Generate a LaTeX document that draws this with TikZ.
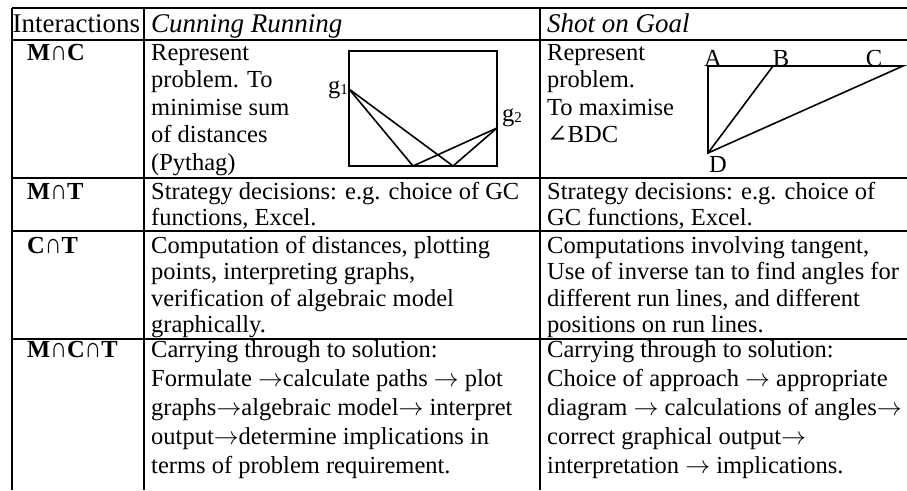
\documentclass[tikz,border=0pt]{standalone}
\usepackage{fontspec}
\setmainfont{Liberation Serif}
\newfontfamily\capfont{Liberation Sans}
\newfontfamily\angfont{DejaVu Serif}
\newcommand{\cp}{\scalebox{0.95}[1.15]{\capfont\mdseries ∩}}
\newcommand{\ar}{\ensuremath{\rightarrow}}
\newcommand{\subsm}[1]{\raisebox{-1.5pt}{\fontsize{15}{15}\selectfont #1}}
\begin{document}
\begin{tikzpicture}[x=1pt,y=-1pt,
  txt/.style={anchor=base west, inner sep=0pt, font=\fontsize{24.5}{27.6}\selectfont},
  hdr/.style={txt, font=\fontsize{27}{30}\selectfont\itshape},
  lbl/.style={txt, font=\fontsize{24.5}{27.6}\selectfont\bfseries},
  ptl/.style={anchor=base, inner sep=0pt, font=\fontsize{24.5}{27.6}\selectfont},
  rule/.style={line width=1.5pt},
  geo/.style={line width=1.6pt, line join=miter, line cap=round}]
\fill[white] (0,0) rectangle (907,490);
\useasboundingbox (0,0) rectangle (907,490);
% table rules
\draw[rule] (12,8) -- (907,8);
\draw[rule] (12,40) -- (907,40);
\draw[rule] (12,178) -- (907,178);
\draw[rule] (12,231) -- (907,231);
\draw[rule] (12,339) -- (907,339);
\draw[rule] (12,8) -- (12,490);
\draw[rule] (144,8) -- (144,490);
\draw[rule] (540,8) -- (540,490);
% header
\node[txt, font=\fontsize{27}{30}\selectfont] (h1) at (12.5,32.5) {Interactions};
\node[hdr] (h2) at (151,32.5) {Cunning Running};
\node[hdr] (h3) at (547,32.5) {Shot on Goal};
% row labels
\node[lbl] (l1) at (27,60) {M\cp C};
\node[lbl] (l2) at (27,199) {M\cp T};
\node[lbl] (l3) at (27,253) {C\cp T};
\node[lbl] (l4) at (27,357) {M\cp C\cp T};
% row 1 texts
\node[txt] (a1) at (151,60) {Represent};
\node[txt] (a2) at (151,87.6) {problem. To};
\node[txt] (a3) at (151,115.2) {minimise sum};
\node[txt] (a4) at (151,142.8) {of distances};
\node[txt] (a5) at (151,170.4) {(Pythag)};
\node[txt] (b1) at (547,60) {Represent};
\node[txt] (b2) at (547,87.6) {problem.};
\node[txt] (b3) at (547,115.2) {To maximise};
\node[txt] (b4) at (547,142.8) {{\angfont ∠}BDC};
% row 2 texts
\node[txt] (c1) at (151,199) {Strategy decisions: e.g. choice of GC};
\node[txt] (c2) at (151,225) {functions, Excel.};
\node[txt] (d1) at (547,199) {Strategy decisions: e.g. choice of};
\node[txt] (d2) at (547,225) {GC functions, Excel.};
% row 3 texts
\node[txt] (e1) at (151,253) {Computation of distances, plotting};
\node[txt] (e2) at (151,279.5) {points, interpreting graphs,};
\node[txt] (e3) at (151,306) {verification of algebraic model};
\node[txt] (e4) at (151,332.5) {graphically.};
\node[txt] (f1) at (547,253) {Computations involving tangent,};
\node[txt] (f2) at (547,279.5) {Use of inverse tan to find angles for};
\node[txt] (f3) at (547,306) {different run lines, and different};
\node[txt] (f4) at (547,332.5) {positions on run lines.};
% row 4 texts
\node[txt] (g1t) at (151,357) {Carrying through to solution:};
\node[txt] (g2t) at (151,386) {Formulate \ar calculate paths \ar{} plot};
\node[txt] (g3t) at (151,415) {graphs\ar algebraic model\ar{} interpret};
\node[txt] (g4t) at (151,444) {output\ar determine implications in};
\node[txt] (g5t) at (151,473) {terms of problem requirement.};
\node[txt] (k1) at (547,357) {Carrying through to solution:};
\node[txt] (k2) at (547,386) {Choice of approach \ar{} appropriate};
\node[txt] (k3) at (547,415) {diagram \ar{} calculations of angles\ar};
\node[txt] (k4) at (547,444) {correct graphical output\ar};
\node[txt] (k5) at (547,473) {interpretation \ar{} implications.};
% Cunning Running diagram
\coordinate (r1) at (349,51);
\coordinate (r2) at (497,166);
\coordinate (g1) at (349,89);
\coordinate (g2) at (497,128);
\coordinate (p1) at (413,166);
\coordinate (p2) at (453,166);
\draw[geo] (r1) rectangle (r2);
\draw[geo] (g1) -- (p1) -- (g2);
\draw[geo] (g1) -- (p2) -- (g2);
\node[anchor=base east, inner sep=0pt, font=\fontsize{24.5}{27.6}\selectfont] (g1l) at (348,93) {g\subsm{1}};
\node[anchor=base west, inner sep=0pt, font=\fontsize{24.5}{27.6}\selectfont] (g2l) at (502,121) {g\subsm{2}};
% Shot on Goal diagram
\coordinate (A) at (708,66);
\coordinate (B) at (773,66);
\coordinate (C) at (903,66);
\coordinate (D) at (708,153);
\draw[geo] (A) -- (C) -- (D) -- (A);
\draw[geo] (D) -- (B);
\node[ptl] (Al) at (713,66) {A};
\node[ptl] (Bl) at (781,66) {B};
\node[ptl] (Cl) at (874,66) {C};
\node[ptl] (Dl) at (718,172) {D};
\end{tikzpicture}
\end{document}
